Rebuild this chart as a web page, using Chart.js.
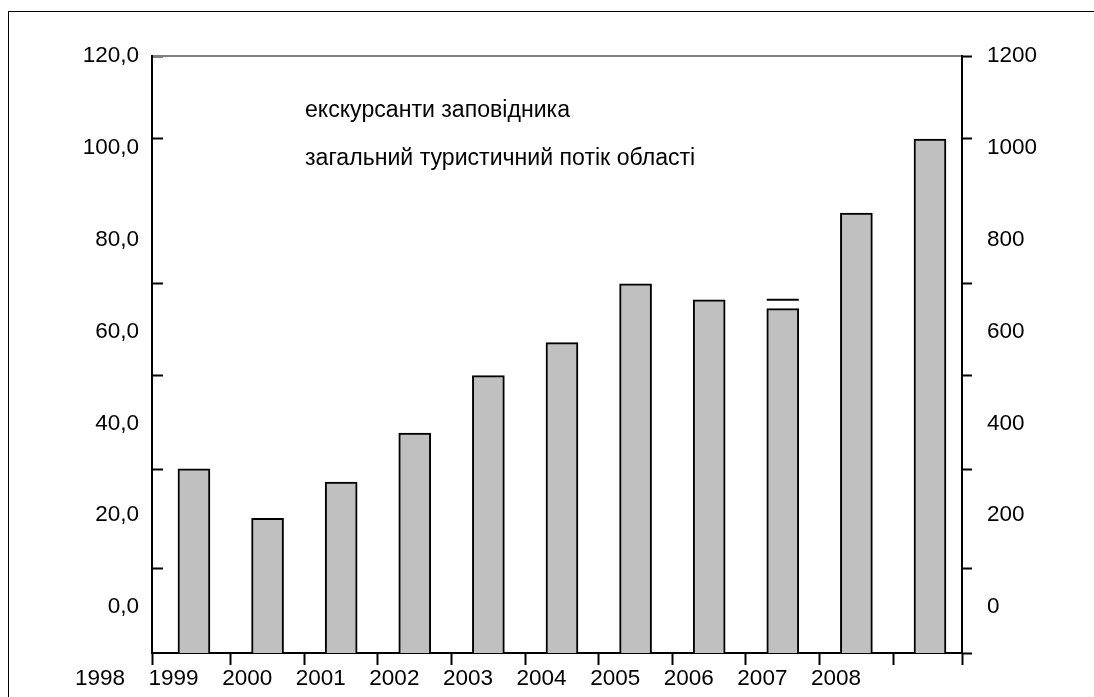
<!DOCTYPE html>
<html>
<head>
<meta charset="utf-8">
<script src="https://cdn.jsdelivr.net/npm/chart.js@4.4.1/dist/chart.umd.min.js"></script>
<style>
  html, body { margin: 0; padding: 0; background: #fff; }
  #wrap { position: absolute; left: 8px; top: 11px; width: 1086px; height: 686px;
          border-left: 1px solid #000; border-top: 1px solid #000; }
  canvas { display: block; }
</style>
</head>
<body>
<div id="wrap"><canvas id="c" width="1085" height="685"></canvas></div>
<script>
// ---------------- data ----------------
const categories = [1998, 1999, 2000, 2001, 2002, 2003, 2004, 2005, 2006, 2007, 2008];
const excursionValues = [30.1, 19.3, 27.2, 37.9, 50.4, 57.6, 70.4, 66.9, 65.0, 85.8, 101.9];
const flowFragment = [null, null, null, null, null, null, null, null, 66.9, null, null];
const seriesNames = ['екскурсанти заповідника', 'загальний туристичний потік області'];
const leftTickLabels = [0, 20, 40, 60, 80, 100, 120];
const leftTickMarks = [120, 102.0, 70.4, 50.4, 30.0, 8.5];
const rightTickLabels = [0, 200, 400, 600, 800, 1000, 1200];
const rightTickMarks = [1200, 1020, 704, 504, 300, 85, -100];

// ---------------- layout constants ----------------
const FONT = '"Liberation Sans", Arial, sans-serif';
const AXIS_FONT_SIZE = 22.5;
const LEGEND_FONT_SIZE = 23.1;
const Y_MIN = -10, Y_MAX = 120;
const Y2_MIN = -100, Y2_MAX = 1200;
const X_MIN = 1997.43, X_MAX = 2008.435;

const xBoundaries = categories.slice(1).map((c, i) => (categories[i] + c) / 2);
const xMarkSet = new Set([X_MIN, ...xBoundaries, X_MAX]);
const xTickValues = [X_MIN, ...categories, ...xBoundaries, X_MAX].sort((a, b) => a - b);
const leftTickValues = [...new Set([...leftTickLabels, ...leftTickMarks])].sort((a, b) => a - b);
const rightTickValues = [...new Set([...rightTickLabels, ...rightTickMarks])].sort((a, b) => a - b);

const markColor = (set) => (ctx) => (ctx.tick && set.has(ctx.tick.value)) ? '#000' : 'rgba(0,0,0,0)';
const leftMarkSet = new Set(leftTickMarks);
const rightMarkSet = new Set(rightTickMarks);

const legendTextPlugin = {
  id: 'legendText',
  afterDraw(chart) {
    const { ctx, chartArea } = chart;
    ctx.save();
    ctx.font = LEGEND_FONT_SIZE + 'px ' + FONT;
    ctx.fillStyle = '#000';
    ctx.textAlign = 'left';
    ctx.textBaseline = 'alphabetic';
    seriesNames.forEach((t, i) => ctx.fillText(t, chartArea.left + 153, chartArea.top + 61 + i * 48));
    ctx.restore();
  }
};

new Chart(document.getElementById('c'), {
  type: 'bar',
  data: {
    labels: categories,
    datasets: [
      {
        label: seriesNames[0],
        data: excursionValues.map(v => [Y_MIN, v]),
        backgroundColor: '#c0c0c0',
        borderColor: '#000',
        borderWidth: 2,
        borderSkipped: 'start',
        barThickness: 32,
        xAxisID: 'x',
        yAxisID: 'y',
        order: 2
      },
      {
        type: 'line',
        label: seriesNames[1],
        data: flowFragment,
        showLine: false,
        pointStyle: 'line',
        pointRadius: 16,
        pointHoverRadius: 16,
        pointBorderWidth: 2,
        borderColor: '#000',
        backgroundColor: '#000',
        xAxisID: 'x',
        yAxisID: 'y',
        order: 1
      }
    ]
  },
  options: {
    responsive: false,
    animation: false,
    layout: { padding: { top: 44, left: 0, right: 0, bottom: 0 } },
    plugins: { legend: { display: false }, tooltip: { enabled: false }, title: { display: false } },
    scales: {
      x: {
        type: 'linear', position: 'bottom', min: X_MIN, max: X_MAX, offset: false, z: 1,
        afterBuildTicks: s => { s.ticks = xTickValues.map(v => ({ value: v })); },
        afterFit: s => { s.height = 44; },
        grid: { display: true, offset: false, drawOnChartArea: false, drawTicks: true, tickLength: 12, tickWidth: 2,
                tickColor: markColor(xMarkSet) },
        border: { display: true, color: '#000', width: 2 },
        ticks: { autoSkip: false, maxRotation: 0, minRotation: 0, padding: 0, labelOffset: -94,
                 color: '#000', font: { family: FONT, size: AXIS_FONT_SIZE },
                 callback: v => categories.includes(v) ? String(v) : '' }
      },
      xTop: {
        type: 'linear', position: 'top', min: X_MIN, max: X_MAX, offset: false,
        afterFit: s => { s.height = 0; },
        grid: { display: false, drawTicks: false },
        border: { display: true, color: '#808080', width: 2 },
        ticks: { display: false }
      },
      y: {
        type: 'linear', position: 'left', min: Y_MIN, max: Y_MAX, z: 1,
        afterBuildTicks: s => { s.ticks = leftTickValues.map(v => ({ value: v })); },
        afterFit: s => { s.width = 143; },
        grid: { display: true, drawOnChartArea: false, drawTicks: true, tickLength: -11, tickWidth: 2,
                tickColor: markColor(leftMarkSet) },
        border: { display: true, color: '#000', width: 2 },
        ticks: { autoSkip: false, padding: 24, color: '#000', font: { family: FONT, size: AXIS_FONT_SIZE },
                 callback: v => leftTickLabels.includes(v) ? v.toFixed(1).replace('.', ',') : '' }
      },
      y2: {
        type: 'linear', position: 'right', min: Y2_MIN, max: Y2_MAX,
        afterBuildTicks: s => { s.ticks = rightTickValues.map(v => ({ value: v })); },
        afterFit: s => { s.width = 132; },
        grid: { display: true, drawOnChartArea: false, drawTicks: true, tickLength: 10, tickWidth: 2,
                tickColor: markColor(rightMarkSet) },
        border: { display: true, color: '#000', width: 2 },
        ticks: { autoSkip: false, padding: 15, color: '#000', font: { family: FONT, size: AXIS_FONT_SIZE },
                 callback: v => rightTickLabels.includes(v) ? String(v) : '' }
      }
    }
  },
  plugins: [legendTextPlugin]
});
</script>
</body>
</html>
